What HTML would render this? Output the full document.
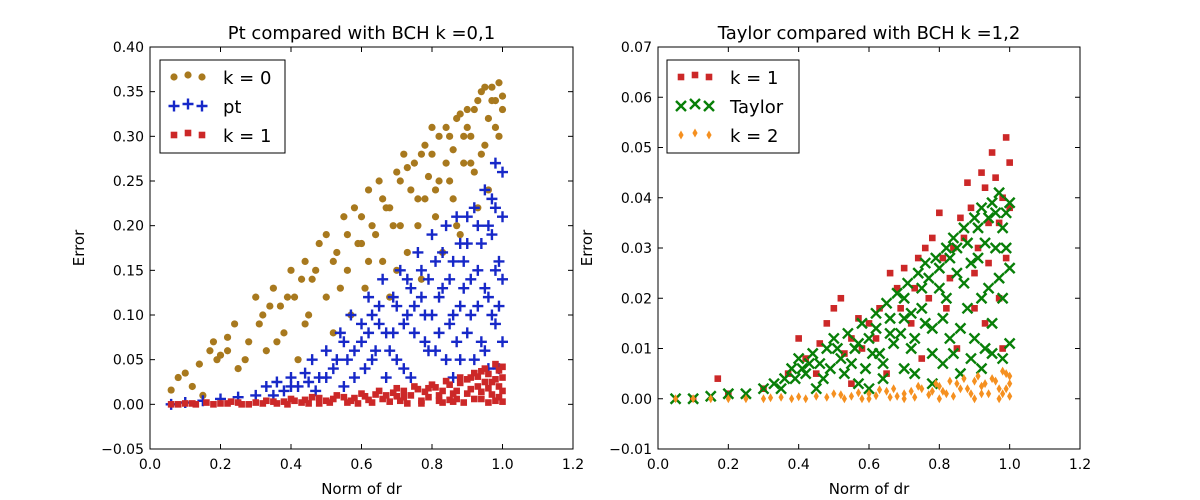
<!DOCTYPE html>
<html><head><meta charset="utf-8"><style>
html,body{margin:0;padding:0;background:#fff;}
svg{display:block;font-family:"DejaVu Sans","Liberation Sans",sans-serif;}
</style></head><body>
<svg id="chart" width="1200" height="500"></svg>
<script>
const leftXTicks=[0.0,0.2,0.4,0.6,0.8,1.0,1.2];
const leftYTicks=[-0.05,0.00,0.05,0.10,0.15,0.20,0.25,0.30,0.35,0.40];
const rightXTicks=[0.0,0.2,0.4,0.6,0.8,1.0,1.2];
const rightYTicks=[-0.01,0.00,0.01,0.02,0.03,0.04,0.05,0.06,0.07];
const k0Pts=[[0.06,0.016],[0.08,0.03],[0.1,0.035],[0.12,0.02],[0.14,0.045],[0.15,0.01],[0.17,0.06],[0.18,0.07],[0.2,0.055],[0.22,0.075],[0.24,0.09],[0.25,0.04],[0.28,0.07],[0.3,0.12],[0.32,0.1],[0.33,0.06],[0.35,0.13],[0.37,0.11],[0.38,0.08],[0.4,0.15],[0.41,0.12],[0.42,0.05],[0.44,0.16],[0.45,0.1],[0.46,0.14],[0.48,0.18],[0.5,0.19],[0.5,0.12],[0.52,0.08],[0.53,0.17],[0.55,0.21],[0.56,0.15],[0.57,0.1],[0.58,0.22],[0.6,0.18],[0.61,0.13],[0.62,0.24],[0.63,0.2],[0.65,0.25],[0.66,0.16],[0.67,0.22],[0.68,0.12],[0.7,0.26],[0.71,0.2],[0.72,0.28],[0.73,0.17],[0.75,0.27],[0.76,0.23],[0.77,0.14],[0.78,0.29],[0.8,0.28],[0.81,0.21],[0.82,0.25],[0.83,0.17],[0.85,0.3],[0.86,0.23],[0.87,0.32],[0.88,0.19],[0.9,0.31],[0.91,0.27],[0.92,0.33],[0.93,0.22],[0.94,0.35],[0.95,0.29],[0.96,0.24],[0.97,0.34],[0.98,0.31],[0.99,0.36],[1.0,0.345],[0.95,0.355],[0.89,0.3],[0.79,0.255],[0.69,0.2],[0.59,0.18],[0.84,0.27],[0.74,0.24],[0.64,0.19],[0.54,0.13],[0.44,0.09],[0.36,0.07],[0.27,0.05],[0.71,0.25],[0.73,0.265],[0.77,0.28],[0.8,0.31],[0.82,0.3],[0.84,0.31],[0.86,0.285],[0.88,0.325],[0.9,0.33],[0.91,0.3],[0.93,0.34],[0.96,0.32],[0.97,0.355],[0.98,0.34],[0.99,0.3],[1.0,0.33],[0.89,0.27],[0.85,0.25],[0.81,0.24],[0.76,0.2],[0.68,0.22],[0.66,0.23],[0.6,0.21],[0.56,0.19],[0.52,0.16],[0.47,0.15],[0.43,0.14],[0.39,0.12],[0.34,0.11],[0.31,0.09],[0.22,0.06],[0.19,0.05],[0.62,0.16],[0.7,0.15],[0.78,0.23],[0.92,0.26],[0.94,0.28],[0.87,0.2]];
const ptPts=[[0.06,0.0],[0.1,0.002],[0.15,0.004],[0.2,0.006],[0.25,0.008],[0.3,0.01],[0.33,0.02],[0.36,0.025],[0.38,0.015],[0.4,0.03],[0.42,0.02],[0.44,0.035],[0.46,0.05],[0.48,0.03],[0.5,0.06],[0.52,0.04],[0.54,0.08],[0.56,0.05],[0.57,0.1],[0.58,0.03],[0.6,0.07],[0.62,0.12],[0.63,0.05],[0.65,0.09],[0.66,0.14],[0.68,0.06],[0.7,0.11],[0.71,0.15],[0.72,0.04],[0.74,0.13],[0.75,0.08],[0.76,0.17],[0.78,0.1],[0.79,0.14],[0.8,0.19],[0.81,0.06],[0.82,0.12],[0.84,0.2],[0.85,0.09],[0.86,0.16],[0.87,0.21],[0.88,0.05],[0.89,0.13],[0.9,0.18],[0.91,0.1],[0.92,0.22],[0.93,0.15],[0.94,0.07],[0.95,0.24],[0.96,0.12],[0.97,0.19],[0.98,0.27],[0.98,0.09],[0.99,0.16],[1.0,0.21],[1.0,0.26],[0.99,0.04],[0.97,0.23],[0.93,0.2],[0.83,0.17],[0.77,0.12],[0.69,0.08],[0.64,0.06],[0.88,0.11],[0.78,0.07],[0.73,0.1],[0.67,0.03],[0.55,0.02],[0.47,0.015],[0.35,0.01],[0.4,0.02],[0.45,0.025],[0.5,0.03],[0.53,0.05],[0.55,0.07],[0.58,0.06],[0.6,0.09],[0.61,0.04],[0.63,0.1],[0.65,0.11],[0.67,0.08],[0.69,0.12],[0.7,0.05],[0.72,0.09],[0.73,0.14],[0.75,0.11],[0.77,0.15],[0.79,0.06],[0.8,0.1],[0.81,0.16],[0.82,0.08],[0.83,0.13],[0.84,0.05],[0.85,0.14],[0.86,0.1],[0.87,0.07],[0.88,0.18],[0.89,0.16],[0.9,0.08],[0.9,0.21],[0.91,0.14],[0.92,0.05],[0.93,0.11],[0.94,0.18],[0.95,0.13],[0.95,0.06],[0.96,0.2],[0.97,0.1],[0.98,0.15],[0.98,0.22],[0.99,0.11],[1.0,0.07],[1.0,0.14],[0.96,0.04],[0.74,0.03],[0.86,0.03],[0.62,0.08]];
const k1LeftPts=[[0.06,0.0],[0.1,0.001],[0.13,0.0],[0.16,0.002],[0.2,0.001],[0.23,0.003],[0.26,0.0],[0.3,0.002],[0.33,0.004],[0.36,0.001],[0.4,0.006],[0.43,0.002],[0.46,0.008],[0.5,0.004],[0.53,0.01],[0.56,0.002],[0.6,0.012],[0.62,0.005],[0.65,0.015],[0.68,0.003],[0.7,0.018],[0.72,0.008],[0.75,0.02],[0.77,0.004],[0.8,0.022],[0.82,0.01],[0.84,0.026],[0.86,0.003],[0.88,0.03],[0.9,0.012],[0.92,0.035],[0.94,0.006],[0.95,0.04],[0.96,0.018],[0.98,0.045],[0.99,0.008],[1.0,0.03],[1.0,0.003],[0.97,0.025],[0.93,0.02],[0.87,0.015],[0.83,0.002],[0.78,0.014],[0.73,0.001],[0.67,0.01],[0.58,0.007],[0.48,0.001],[0.38,0.003],[0.08,0.0],[0.12,0.001],[0.18,0.0],[0.22,0.001],[0.25,0.002],[0.28,0.0],[0.32,0.001],[0.35,0.003],[0.39,0.0],[0.41,0.004],[0.44,0.005],[0.45,0.001],[0.48,0.007],[0.51,0.002],[0.52,0.006],[0.55,0.008],[0.57,0.004],[0.59,0.001],[0.61,0.009],[0.63,0.002],[0.64,0.011],[0.66,0.006],[0.69,0.013],[0.71,0.004],[0.72,0.015],[0.74,0.01],[0.76,0.017],[0.77,0.001],[0.79,0.008],[0.81,0.019],[0.82,0.004],[0.83,0.015],[0.85,0.022],[0.86,0.012],[0.87,0.006],[0.88,0.024],[0.89,0.002],[0.9,0.028],[0.91,0.017],[0.92,0.006],[0.93,0.031],[0.94,0.014],[0.95,0.025],[0.96,0.002],[0.96,0.034],[0.97,0.011],[0.98,0.028],[0.98,0.004],[0.99,0.038],[0.99,0.02],[1.0,0.015],[1.0,0.042],[0.94,0.037],[0.91,0.03],[0.85,0.005],[0.79,0.018],[0.7,0.009]];
const k1RightPts=[[0.1,0.0],[0.17,0.004],[0.2,0.001],[0.3,0.002],[0.37,0.005],[0.4,0.012],[0.42,0.008],[0.45,0.005],[0.48,0.015],[0.5,0.018],[0.52,0.02],[0.55,0.012],[0.58,0.01],[0.6,0.015],[0.63,0.018],[0.66,0.025],[0.68,0.022],[0.7,0.026],[0.72,0.015],[0.74,0.028],[0.76,0.03],[0.78,0.032],[0.8,0.037],[0.82,0.018],[0.84,0.03],[0.86,0.036],[0.88,0.043],[0.9,0.025],[0.92,0.045],[0.94,0.035],[0.95,0.049],[0.97,0.02],[0.99,0.052],[1.0,0.047],[0.98,0.01],[0.93,0.015],[0.85,0.01],[0.75,0.008],[0.65,0.005],[0.55,0.003],[0.46,0.011],[0.53,0.009],[0.57,0.016],[0.62,0.012],[0.69,0.018],[0.73,0.022],[0.77,0.02],[0.81,0.028],[0.83,0.024],[0.87,0.032],[0.89,0.038],[0.91,0.03],[0.93,0.042],[0.94,0.027],[0.96,0.044],[0.97,0.035],[0.98,0.04],[1.0,0.038],[0.99,0.028],[0.9,0.018]];
const taylorPts=[[0.05,0.0],[0.1,0.0],[0.15,0.0005],[0.2,0.001],[0.25,0.001],[0.3,0.002],[0.33,0.003],[0.36,0.004],[0.38,0.006],[0.4,0.008],[0.42,0.005],[0.44,0.009],[0.46,0.007],[0.48,0.01],[0.5,0.012],[0.52,0.008],[0.54,0.013],[0.56,0.01],[0.58,0.015],[0.6,0.012],[0.62,0.017],[0.63,0.009],[0.65,0.019],[0.66,0.013],[0.68,0.021],[0.7,0.016],[0.71,0.023],[0.72,0.01],[0.74,0.025],[0.75,0.018],[0.76,0.027],[0.78,0.014],[0.79,0.028],[0.8,0.022],[0.82,0.03],[0.83,0.012],[0.84,0.032],[0.85,0.025],[0.87,0.034],[0.88,0.018],[0.9,0.036],[0.91,0.028],[0.92,0.038],[0.93,0.01],[0.95,0.039],[0.96,0.03],[0.97,0.041],[0.98,0.02],[0.99,0.037],[1.0,0.011],[1.0,0.026],[0.94,0.022],[0.89,0.008],[0.81,0.007],[0.73,0.005],[0.64,0.004],[0.57,0.003],[0.45,0.002],[0.35,0.002],[0.39,0.004],[0.41,0.006],[0.43,0.007],[0.47,0.004],[0.49,0.006],[0.51,0.01],[0.53,0.005],[0.55,0.007],[0.57,0.011],[0.59,0.006],[0.61,0.009],[0.62,0.014],[0.64,0.007],[0.66,0.016],[0.67,0.011],[0.69,0.013],[0.7,0.02],[0.72,0.017],[0.73,0.012],[0.75,0.022],[0.76,0.015],[0.77,0.024],[0.78,0.009],[0.8,0.026],[0.81,0.016],[0.82,0.02],[0.83,0.028],[0.84,0.009],[0.85,0.03],[0.86,0.014],[0.87,0.023],[0.88,0.031],[0.89,0.027],[0.9,0.012],[0.91,0.034],[0.92,0.02],[0.93,0.031],[0.94,0.036],[0.95,0.015],[0.96,0.037],[0.97,0.024],[0.98,0.034],[0.99,0.03],[1.0,0.039],[0.98,0.008],[0.95,0.009],[0.92,0.006],[0.86,0.005],[0.78,0.003],[0.7,0.006],[0.6,0.002]];
const k2Pts=[[0.05,0.0],[0.15,0.0],[0.25,0.0],[0.35,0.0003],[0.45,0.0005],[0.5,0.001],[0.55,0.0005],[0.6,0.001],[0.65,0.0015],[0.7,0.001],[0.75,0.002],[0.8,0.0025],[0.82,0.001],[0.85,0.003],[0.88,0.002],[0.9,0.0035],[0.92,0.001],[0.95,0.004],[0.97,0.002],[0.99,0.005],[1.0,0.003],[0.93,0.003],[0.78,0.0015],[0.68,0.0005],[0.1,0.0],[0.2,0.0],[0.3,0.0],[0.32,0.0002],[0.38,0.0],[0.4,0.0004],[0.42,0.0],[0.48,0.0003],[0.52,0.0008],[0.53,0.0],[0.57,0.0012],[0.58,0.0],[0.62,0.0006],[0.63,0.0018],[0.66,0.0003],[0.67,0.002],[0.72,0.0015],[0.73,0.0003],[0.74,0.0025],[0.77,0.0008],[0.79,0.003],[0.81,0.0015],[0.83,0.0035],[0.84,0.0005],[0.86,0.002],[0.87,0.004],[0.89,0.001],[0.91,0.0045],[0.92,0.0025],[0.94,0.001],[0.96,0.0035],[0.98,0.0055],[0.98,0.001],[0.99,0.002],[1.0,0.0045],[1.0,0.0005],[0.97,0.0],[0.9,0.0],[0.8,0.0],[0.7,0.0],[0.6,0.0]];

const NS="http://www.w3.org/2000/svg";
const svg=document.getElementById('chart');
function mk(tag,attrs,parent){const e=document.createElementNS(NS,tag);for(const k in attrs)e.setAttribute(k,attrs[k]);(parent||svg).appendChild(e);return e;}
function axes(L,R,T,B,xmin,xmax,ymin,ymax){return{x:v=>L+(v-xmin)/(xmax-xmin)*(R-L),y:v=>B-(v-ymin)/(ymax-ymin)*(B-T),L,R,T,B};}
const A1=axes(150,573,47,449,0,1.2,-0.05,0.40);
const A2=axes(658,1080,47,449,0,1.2,-0.01,0.07);

function drawMarker(g,type,cx,cy,color){
  let e;
  if(type==='circle') e=mk('circle',{cx,cy,r:3.6,fill:color},g);
  else if(type==='square') e=mk('rect',{x:cx-3.3,y:cy-3.3,width:6.6,height:6.6,fill:color},g);
  else if(type==='plus') e=mk('path',{d:`M${cx-5.5},${cy}H${cx+5.5}M${cx},${cy-5.5}V${cy+5.5}`,stroke:color,'stroke-width':2.4,fill:'none'},g);
  else if(type==='x') e=mk('path',{d:`M${cx-5},${cy-5}L${cx+5},${cy+5}M${cx-5},${cy+5}L${cx+5},${cy-5}`,stroke:color,'stroke-width':2.4,fill:'none'},g);
  else e=mk('path',{d:`M${cx},${cy-4.5}L${cx+2.6},${cy}L${cx},${cy+4.5}L${cx-2.6},${cy}Z`,fill:color},g);
  return e;
}
function series(A,pts,type,color,name){
  const g=mk('g',{});
  
  
  pts.forEach(p=>{
    const m=drawMarker(g,type,A.x(p[0]),A.y(p[1]),color);
    
    
  });
}
function frame(A,xt,yt,fmtY,title,prefix){
  xt.forEach(v=>{const x=A.x(v);
    mk('line',{x1:x,x2:x,y1:A.B,y2:A.B-5,stroke:'#000'});mk('line',{x1:x,x2:x,y1:A.T,y2:A.T+5,stroke:'#000'});
    const t=mk('text',{x:x,y:A.B+20,'text-anchor':'middle','font-size':14});t.textContent=v.toFixed(1);
    
    });
  yt.forEach(v=>{const y=A.y(v);
    mk('line',{x1:A.L,x2:A.L+5,y1:y,y2:y,stroke:'#000'});mk('line',{x1:A.R,x2:A.R-5,y1:y,y2:y,stroke:'#000'});
    const t=mk('text',{x:A.L-6,y:y+5,'text-anchor':'end','font-size':14});t.textContent=(v<0?'\u2212':'')+Math.abs(v).toFixed(fmtY);
    
    });
  const r=mk('rect',{x:A.L,y:A.T,width:A.R-A.L,height:A.B-A.T,fill:'none',stroke:'#000','stroke-width':1});
  
  
  const tt=mk('text',{x:(A.L+A.R)/2,y:A.T-8,'text-anchor':'middle','font-size':18});tt.textContent=title;
  
  
  const xl=mk('text',{x:(A.L+A.R)/2,y:A.B+45,'text-anchor':'middle','font-size':15});xl.textContent='Norm of dr';
  
  
  const yl=mk('text',{x:0,y:0,'text-anchor':'middle','font-size':15,transform:`translate(${A.L-66},${(A.T+A.B)/2}) rotate(-90)`});yl.textContent='Error';
  
  
}
function legend(x,y,w,entries,prefix){
  const g=mk('g',{});
  
  
  mk('rect',{x,y,width:w,height:93,fill:'#fff',stroke:'#000'},g);
  entries.forEach((e,i)=>{const cy=y+17+i*29;
    [x+14,x+28,x+42].forEach((mx,j)=>drawMarker(g,e[1],mx,cy+(j===1?-2:0),e[2]));
    const t=mk('text',{x:x+63,y:cy+7,'font-size':18},g);t.textContent=e[0];
    
    });
}
frame(A1,leftXTicks,leftYTicks,2,'Pt compared with BCH k =0,1','left');
frame(A2,rightXTicks,rightYTicks,2,'Taylor compared with BCH k =1,2','right');
series(A1,k0Pts,'circle','#a8791e','k0');
series(A1,ptPts,'plus','#1728c8','pt');
series(A1,k1LeftPts,'square','#cc2828','k1-left');
series(A2,k1RightPts,'square','#cc2828','k1-right');
series(A2,taylorPts,'x','#087f08','taylor');
series(A2,k2Pts,'diamond','#f59020','k2');
legend(160,60,125,[['k = 0','circle','#a8791e'],['pt','plus','#1728c8'],['k = 1','square','#cc2828']],'left');
legend(667,60,132,[['k = 1','square','#cc2828'],['Taylor','x','#087f08'],['k = 2','diamond','#f59020']],'right');
</script>
</body></html>
